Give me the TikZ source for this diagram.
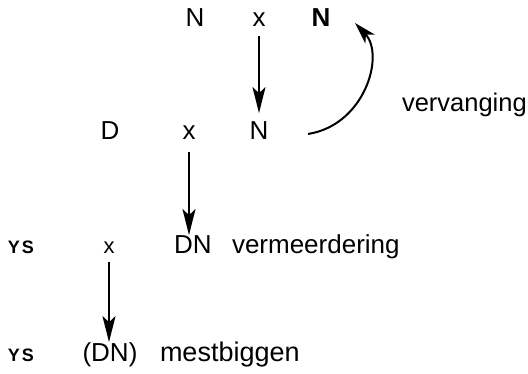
\documentclass[tikz,border=0pt]{standalone}
\usepackage{fontspec}
\setmainfont{Liberation Sans}
\usetikzlibrary{arrows.meta}
\begin{document}
\begin{tikzpicture}[x=1pt,y=-1pt,
  lbl/.style={anchor=base,inner sep=0pt,outer sep=0pt,font=\fontsize{26}{30}\selectfont},
  lblw/.style={anchor=base west,inner sep=0pt,outer sep=0pt,font=\fontsize{25.5}{30}\selectfont},
  smallx/.style={anchor=base,inner sep=0pt,outer sep=0pt,font=\fontsize{22}{25}\selectfont},
  ys/.style={anchor=base,inner sep=0pt,outer sep=0pt,font=\fontsize{18}{20}\selectfont\bfseries},
  arr/.style={line width=2pt,-{Stealth[length=26pt,width=13pt,inset=6pt]}}]
\useasboundingbox (0,0) rectangle (528,374);
% row 1
\node[lbl] (n1) at (195,27) {N};
\node[lbl] (x1) at (259,27) {x};
\node[lbl,font=\fontsize{26}{30}\selectfont\bfseries] (nb) at (321,27) {N};
% row 2
\node[lbl] (d2) at (110,140) {D};
\node[lbl] (x2) at (189,140) {x};
\node[lbl] (n2) at (259,140) {N};
\node[lblw] (verv) at (402,112) {vervanging};
% row 3
\node[ys] (ys3) at (21,254) {Y\kern2pt S};
\node[smallx] (x3) at (109,254) {x};
\node[lbl] (dn3) at (193,254) {DN};
\node[lblw,font=\fontsize{26}{30}\selectfont] (verm) at (232,254) {vermeerdering};
% row 4
\node[ys] (ys4) at (21,362) {Y\kern2pt S};
\node[lbl] (dn4) at (110,362) {(DN)};
\node[lblw,font=\fontsize{27}{30}\selectfont] (mest) at (160,362) {mestbiggen};
% connectors
\draw[arr,shorten <=9pt,shorten >=9pt] (x1.south) -- (x1.south |- n2.north);
\draw[arr,shorten <=12pt,shorten >=1pt] (x2.south) -- (x2.south |- dn3.north);
\draw[arr,shorten <=8pt,shorten >=1pt] (x3.south) -- (x3.south |- dn4.north);
\coordinate (cs) at (308,134);
\coordinate (ce) at (355,23);
\draw[line width=2pt,-{Stealth[length=22pt,width=13pt,inset=6pt]}] (cs) .. controls (365,125) and (385,55) .. (ce);
\end{tikzpicture}
\end{document}
